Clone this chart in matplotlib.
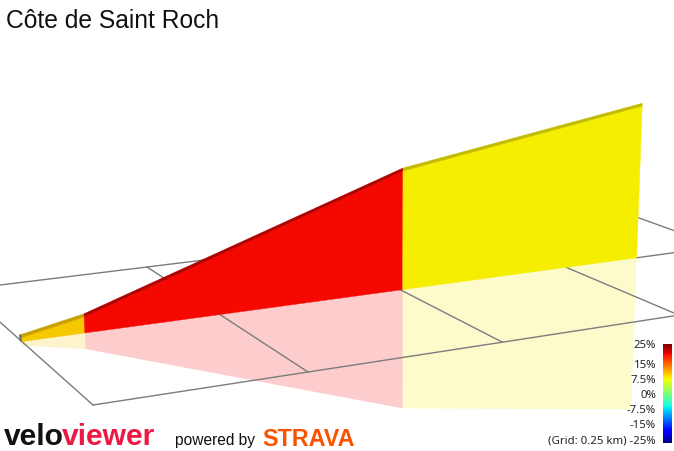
import numpy as np
import matplotlib
matplotlib.use("Agg")
import matplotlib.pyplot as plt
from matplotlib.patches import Polygon


# Profilet: distanse langs stigningen (km) og hoyde (m)
dist_km = [0.0, 0.077, 0.503, 0.863]
elev_m = [182.8, 191.3, 270.2, 302.6]
ground_m = 180.0
route_row_km = 0.25

# Rutenett paa bakken, 0.25 km
grid_x_km = [0.0, 0.25, 0.5, 0.75, 1.0]
grid_y_km = [0.0, 0.25, 0.5]

# Fargeskala
bar_grades = [25, 15, 7.5, 0, -7.5, -15, -25]
bar_labels = ["25%", "15%", "7.5%", "0%", "-7.5%", "-15%", "(Grid: 0.25 km) -25%"]

title = "Côte de Saint Roch"

# farger per segment (front og topp)
face_cols = ["#f5c800", "#f40800", "#f5ee00"]
top_cols = ["#c9a000", "#b00000", "#c2bb00"]

W, Hpx = 674, 451

# kamera: homografi fra bakkeplan (km) til piksler
cam = np.array([[925.56, -274.94, 93.0],
                [-52.84, -104.6, 405.0],
                [0.2128, 0.4366, 1.0]])


def project(xk, yk, h=0.0):
    v = cam @ np.array([xk, yk, 1.0])
    w = v[2]
    px, py = v[0] / w, v[1] / w
    hp = h * 1.6 / w
    px = px + (px - 390) * hp / 6700
    return px, py - hp


fig = plt.figure(figsize=(W / 100, Hpx / 100), dpi=100)
ax = fig.add_axes([0, 0, 1, 1])
ax.set_xlim(0, W)
ax.set_ylim(Hpx, 0)
ax.axis("off")

# speilbilde under bakken
for i in range(len(dist_km) - 1):
    x0, x1 = dist_km[i], dist_km[i + 1]
    e0, e1 = elev_m[i] - ground_m, elev_m[i + 1] - ground_m
    pts = [project(x0, route_row_km), project(x1, route_row_km),
           project(x1, route_row_km, -e1), project(x0, route_row_km, -e0)]
    ax.add_patch(Polygon(pts, closed=True, facecolor=face_cols[i], alpha=0.2,
                         edgecolor="none", zorder=1))

# rutenett
gcol = "#7c7c7c"
for gx in grid_x_km:
    p0 = project(gx, grid_y_km[0])
    p1 = project(gx, grid_y_km[-1])
    ax.plot([p0[0], p1[0]], [p0[1], p1[1]], color=gcol, lw=1.0, zorder=2)
for gy in grid_y_km:
    start = grid_x_km[0]
    if gy == route_row_km:
        start = dist_km[-1]
    p0 = project(start, gy)
    p1 = project(grid_x_km[-1], gy)
    ax.plot([p0[0], p1[0]], [p0[1], p1[1]], color=gcol, lw=1.0, zorder=2)

# veggen
for i in range(len(dist_km) - 1):
    x0, x1 = dist_km[i], dist_km[i + 1]
    e0, e1 = elev_m[i] - ground_m, elev_m[i + 1] - ground_m
    b0 = project(x0, route_row_km)
    b1 = project(x1, route_row_km)
    t0 = project(x0, route_row_km, e0)
    t1 = project(x1, route_row_km, e1)
    ax.add_patch(Polygon([b0, b1, t1, t0], closed=True, facecolor=face_cols[i],
                         edgecolor=face_cols[i], lw=0.3, zorder=3))
    w0 = (cam @ np.array([x0, route_row_km, 1.0]))[2]
    w1 = (cam @ np.array([x1, route_row_km, 1.0]))[2]
    r0 = (t0[0], t0[1] - 3.6 / w0)
    r1 = (t1[0], t1[1] - 3.6 / w1)
    ax.add_patch(Polygon([t0, t1, r1, r0], closed=True, facecolor=top_cols[i],
                         edgecolor=top_cols[i], lw=0.3, zorder=4))

# endeflate ved start
s_b = project(dist_km[0], route_row_km)
s_t = project(dist_km[0], route_row_km, elev_m[0] - ground_m)
cap = [(s_b[0], s_b[1] + 1), (s_t[0], s_t[1] - 3.2), (s_t[0] - 2.5, s_t[1] - 3.2),
       (s_b[0] - 2.5, s_b[1] - 1)]
ax.add_patch(Polygon(cap, closed=True, facecolor="#6e6e6e", edgecolor="none", zorder=5))

# tittel
ax.text(6, 28.3, title, fontsize=17.7, family="Liberation Sans", color="#111111",
        va="baseline", ha="left")

# logoer nederst
ax.text(4, 445, "velo", fontsize=21.6, fontweight="bold", family="Liberation Sans",
        color="#111111", va="baseline")
ax.text(62, 445, "viewer", fontsize=21.6, fontweight="bold", family="Liberation Sans",
        color="#ec1943", va="baseline")
ax.text(175, 445, "powered by", fontsize=11.2, family="Liberation Sans",
        color="#111111", va="baseline")
ax.text(262, 446, "STRAVA", fontsize=16.8, fontweight="bold", family="Liberation Sans",
        color="#fc5200", va="baseline")

# fargeskala
bar_top, bar_bot = 344, 443
cax = fig.add_axes([663 / W, (Hpx - bar_bot) / Hpx, 9 / W, (bar_bot - bar_top) / Hpx])
grad = np.linspace(0, 1, 256).reshape(-1, 1)
cax.imshow(grad, cmap="jet", origin="lower", aspect="auto")
cax.axis("off")


def grade_frac(g):
    return np.interp(g, [-25, -15, 0, 15, 25], [0, 0.197, 0.5, 0.803, 1.0])


for g, lab in zip(bar_grades, bar_labels):
    yc = bar_bot - grade_frac(g) * (bar_bot - bar_top)
    yb = min(yc + 4.1, bar_bot + 0.3)
    ax.text(656, yb, lab, fontsize=8.2, family="Noto Sans", color="#222222",
            ha="right", va="baseline")

fig.savefig("out.png", dpi=100)
